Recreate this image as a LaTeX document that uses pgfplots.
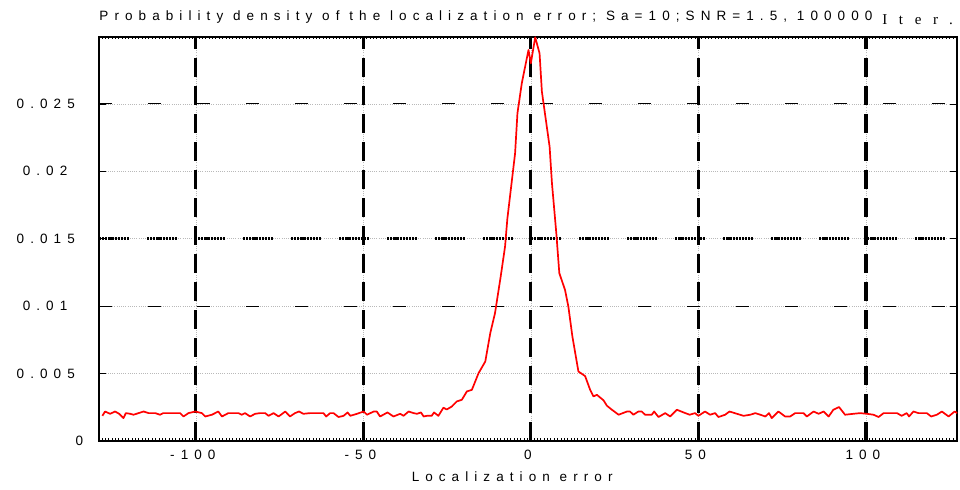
\documentclass[border=0pt]{standalone}
\usepackage{fontspec}
\setmainfont{Liberation Sans}
\newfontfamily\spaced[LetterSpace=45]{Liberation Sans}
\newfontfamily\tickfont[LetterSpace=45]{Liberation Sans}
\newfontfamily\serifsp[LetterSpace=78]{Liberation Serif}
\usepackage{pgfplots}
\usepackage{pgfplotstable}
\pgfplotsset{compat=1.18}
\pgfplotstableread{
x y
-127.9 0.00185
-127.1 0.00217
-125.6 0.00200
-124.1 0.00217
-122.9 0.00200
-121.6 0.00168
-120.9 0.00205
-119.6 0.00200
-118.6 0.00193
-117.1 0.00205
-115.6 0.00217
-114.1 0.00205
-112.1 0.00205
-110.7 0.00193
-109.7 0.00205
-104.7 0.00205
-103.7 0.00180
-102.2 0.00205
-100.2 0.00217
-98.2 0.00205
-97.2 0.00180
-95.2 0.00193
-93.3 0.00217
-92.2 0.00180
-90.3 0.00205
-87.3 0.00205
-86.3 0.00193
-85.3 0.00205
-83.8 0.00180
-82.3 0.00200
-80.8 0.00205
-79.3 0.00205
-78.3 0.00185
-76.8 0.00205
-75.3 0.00180
-73.3 0.00217
-71.9 0.00180
-70.4 0.00205
-69.2 0.00217
-67.9 0.00200
-65.9 0.00205
-61.9 0.00205
-61.1 0.00180
-59.9 0.00205
-58.9 0.00205
-57.4 0.00176
-55.9 0.00185
-54.7 0.00210
-53.9 0.00185
-51.9 0.00200
-49.9 0.00217
-48.9 0.00193
-46.9 0.00217
-46.0 0.00217
-45.0 0.00180
-42.8 0.00210
-41.0 0.00180
-39.0 0.00200
-38.0 0.00185
-36.5 0.00217
-35.0 0.00205
-34.0 0.00200
-32.8 0.00210
-32.0 0.00180
-31.0 0.00185
-29.6 0.00185
-28.9 0.00210
-27.6 0.00185
-26.1 0.00245
-25.1 0.00232
-23.6 0.00254
-22.1 0.00292
-20.6 0.00304
-19.1 0.00366
-17.6 0.00378
-15.6 0.00502
-13.6 0.00588
-12.1 0.00800
-10.7 0.00947
-9.0 0.01219
-7.7 0.01441
-7.0 0.01650
-4.7 0.02134
-4.0 0.02431
-2.7 0.02654
-0.7 0.02901
0.0 0.02802
1.3 0.02995
2.6 0.02876
3.3 0.02591
5.6 0.02183
6.3 0.01912
7.6 0.01541
8.5 0.01244
10.2 0.01120
11.2 0.00996
12.4 0.00774
14.2 0.00514
16.2 0.00480
17.7 0.00378
18.7 0.00329
19.7 0.00341
21.7 0.00300
22.7 0.00260
24.2 0.00230
26.2 0.00193
28.7 0.00217
29.6 0.00217
30.6 0.00193
32.1 0.00217
33.1 0.00217
34.1 0.00193
36.1 0.00193
36.8 0.00217
38.1 0.00176
40.1 0.00205
41.6 0.00180
43.6 0.00230
45.6 0.00210
47.4 0.00193
49.0 0.00205
50.0 0.00185
52.0 0.00217
53.5 0.00193
55.0 0.00205
56.0 0.00176
58.0 0.00193
59.3 0.00217
61.5 0.00200
63.5 0.00185
65.5 0.00193
67.0 0.00205
68.5 0.00193
70.0 0.00180
71.1 0.00205
71.9 0.00168
73.9 0.00217
75.9 0.00180
77.4 0.00180
78.9 0.00205
81.4 0.00205
82.4 0.00180
84.4 0.00217
85.9 0.00200
87.4 0.00217
88.9 0.00180
90.3 0.00230
92.0 0.00250
93.8 0.00193
96.3 0.00200
98.3 0.00205
100.3 0.00200
102.3 0.00193
103.8 0.00176
105.3 0.00205
109.3 0.00205
110.7 0.00185
112.2 0.00205
112.9 0.00180
114.2 0.00217
115.7 0.00205
118.2 0.00205
119.5 0.00180
121.2 0.00193
122.7 0.00217
124.7 0.00180
126.5 0.00217
127.3 0.00205
}\datatable

\begin{document}
\begin{tikzpicture}
\pgfplotsset{
  common/.style={width=858pt, height=404pt, scale only axis,
    xmin=-128.9, xmax=127.3, ymin=0, ymax=0.03,
    scaled y ticks=false, scaled x ticks=false,
    xtick={-100,-50,0,50,100}},
  gridonly/.style={common, axis line style={draw=none}, tick style={draw=none},
    xticklabels={}, yticklabels={}},
}
% gray dotted underlay grid
\begin{axis}[gridonly, ytick={0,0.005,0.01,0.015,0.02,0.025},
  grid=major, grid style={gray!55, line width=0.6pt, dash pattern=on 1pt off 1.2pt}]
\end{axis}
% heavy dashed vertical grid
\begin{axis}[gridonly, ytick={0.01}, xmajorgrids=true, ymajorgrids=false,
  grid style={black, line width=3.3pt, dash pattern=on 19pt off 9pt}]
\end{axis}
% sparse dashes at 0.01 and 0.025
\begin{axis}[gridonly, ytick={0.01,0.025}, xmajorgrids=false, ymajorgrids=true,
  grid style={black, line width=1pt, dash pattern=on 13pt off 36pt}]
\end{axis}
% heavy dotted at 0.015
\begin{axis}[gridonly, ytick={0.015}, xmajorgrids=false, ymajorgrids=true,
  grid style={black, line width=2.4pt, dash pattern=on 2.2pt off 0.9pt on 2.2pt off 0.9pt on 2.2pt off 0.9pt on 2.2pt off 0.9pt on 2.2pt off 0.9pt on 2.2pt off 0.9pt on 2.2pt off 0.9pt on 2.2pt off 0.9pt on 2.2pt off 0.9pt on 2.2pt off 17.9pt}]
\end{axis}
% main axis
\begin{axis}[common,
  ytick={0,0.005,0.01,0.015,0.02,0.025},
  yticklabels={0\kern-10pt,0.005,0.01\phantom{5},0.015,0.02\phantom{5},0.025},
  xticklabels={-100,-50,0,50,100},
  minor xtick={-128,-127,...,127},
  axis line style={line width=2.2pt},
  tick align=inside, xtick pos=both, ytick pos=both,
  major tick length=7pt, minor tick length=2.5pt,
  tick style={black, line width=0.9pt},
  xticklabel style={font=\tickfont\fontsize{13.5}{15}\selectfont, anchor=base, yshift=-19pt, xshift=-3pt},
  yticklabel style={font=\tickfont\fontsize{13.5}{15}\selectfont, anchor=east, inner sep=0pt, xshift=-24pt},
  title={\spaced Probability density of the localization error; Sa=10;SNR=1.5, 100000 \raisebox{-4pt}{\serifsp\fontsize{15}{16}\selectfont Iter.}},
  title style={font=\fontsize{13.5}{15}\selectfont, at={(axis description cs:0.5,1)}, anchor=base, yshift=10pt, xshift=-2pt, inner sep=0pt},
  xlabel={\spaced Localization error},
  xlabel style={font=\fontsize{13.5}{15}\selectfont, at={(axis description cs:0.5,0)}, anchor=base, yshift=-40.7pt, xshift=-16pt, inner sep=0pt},
]
\addplot[red, line width=1.7pt, line join=round] table[x=x, y=y] {\datatable};
\end{axis}
\pgfresetboundingbox
\path ([shift={(-99pt,-49pt)}]current axis.south west) rectangle ([shift={(2.7pt,36.6pt)}]current axis.north east);
\end{tikzpicture}
\end{document}
